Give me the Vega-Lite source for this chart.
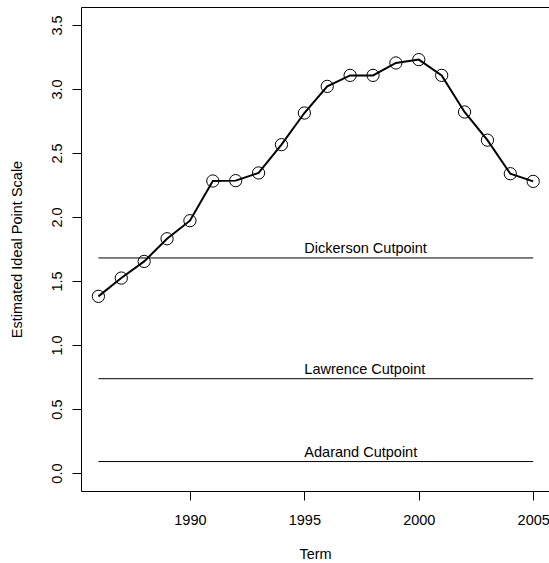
{
  "$schema": "https://vega.github.io/schema/vega-lite/v6.json",
  "autosize": {"type": "none"},
  "padding": {"left": 81, "top": 7, "right": 0, "bottom": 72},
  "width": 468,
  "height": 484,
  "background": "white",
  "config": {
    "view": {"stroke": null},
    "font": "Liberation Sans",
    "axis": {
      "grid": false,
      "domainColor": "black",
      "domainWidth": 1,
      "tickColor": "black",
      "tickWidth": 1,
      "tickSize": 9,
      "labelColor": "black",
      "labelFont": "Liberation Sans",
      "labelFontSize": 14.5,
      "labelFlush": false,
      "labelOverlap": false,
      "titleColor": "black",
      "titleFont": "Liberation Sans",
      "titleFontSize": 14.5,
      "titleFontWeight": "normal"
    }
  },
  "datasets": {
    "ideal": [
      {"term": 1986, "score": 1.38},
      {"term": 1987, "score": 1.523},
      {"term": 1988, "score": 1.653},
      {"term": 1989, "score": 1.83},
      {"term": 1990, "score": 1.971},
      {"term": 1991, "score": 2.281},
      {"term": 1992, "score": 2.284},
      {"term": 1993, "score": 2.344},
      {"term": 1994, "score": 2.565},
      {"term": 1995, "score": 2.812},
      {"term": 1996, "score": 3.02},
      {"term": 1997, "score": 3.106},
      {"term": 1998, "score": 3.106},
      {"term": 1999, "score": 3.203},
      {"term": 2000, "score": 3.229},
      {"term": 2001, "score": 3.106},
      {"term": 2002, "score": 2.82},
      {"term": 2003, "score": 2.6},
      {"term": 2004, "score": 2.338},
      {"term": 2005, "score": 2.278}
    ],
    "cuts": [
      {"case": "Dickerson Cutpoint", "cutpoint": 1.68, "start": 1986, "end": 2005},
      {"case": "Lawrence Cutpoint", "cutpoint": 0.737, "start": 1986, "end": 2005},
      {"case": "Adarand Cutpoint", "cutpoint": 0.09, "start": 1986, "end": 2005}
    ]
  },
  "resolve": {"axis": {"x": "independent"}},
  "layer": [
    {
      "data": {"name": "cuts"},
      "mark": {"type": "rule", "color": "black", "strokeWidth": 1},
      "encoding": {
        "x": {
          "field": "start",
          "type": "quantitative",
          "scale": {"domain": [1985.24, 2005.69], "nice": false, "zero": false},
          "axis": {
            "orient": "bottom",
            "values": [1990, 1995, 2000, 2005],
            "format": "d",
            "labelPadding": 13,
            "title": "Term",
            "titlePadding": 21
          }
        },
        "x2": {"field": "end"},
        "y": {
          "field": "cutpoint",
          "type": "quantitative",
          "scale": {"domain": [-0.14, 3.64], "nice": false, "zero": false},
          "axis": {
            "orient": "left",
            "values": [0, 0.5, 1, 1.5, 2, 2.5, 3, 3.5],
            "format": ".1f",
            "labelAngle": -90,
            "labelPadding": 8,
            "title": "Estimated Ideal Point Scale",
            "titlePadding": 25
          }
        }
      }
    },
    {
      "data": {"name": "cuts"},
      "mark": {"type": "text", "align": "left", "baseline": "alphabetic", "dy": -5, "fontSize": 14.5, "font": "Liberation Sans", "color": "black"},
      "encoding": {
        "x": {
          "datum": 1995,
          "type": "quantitative",
          "axis": {"orient": "top", "labels": false, "ticks": false, "domain": true, "title": null}
        },
        "y": {"field": "cutpoint", "type": "quantitative"},
        "text": {"field": "case"}
      }
    },
    {
      "data": {"name": "ideal"},
      "mark": {"type": "line", "color": "black", "strokeWidth": 2},
      "encoding": {
        "x": {"field": "term", "type": "quantitative", "axis": null},
        "y": {"field": "score", "type": "quantitative"}
      }
    },
    {
      "data": {"name": "ideal"},
      "mark": {"type": "point", "shape": "circle", "filled": false, "size": 150, "stroke": "black", "strokeWidth": 1, "opacity": 1},
      "encoding": {
        "x": {"field": "term", "type": "quantitative", "axis": null},
        "y": {"field": "score", "type": "quantitative"}
      }
    }
  ]
}
